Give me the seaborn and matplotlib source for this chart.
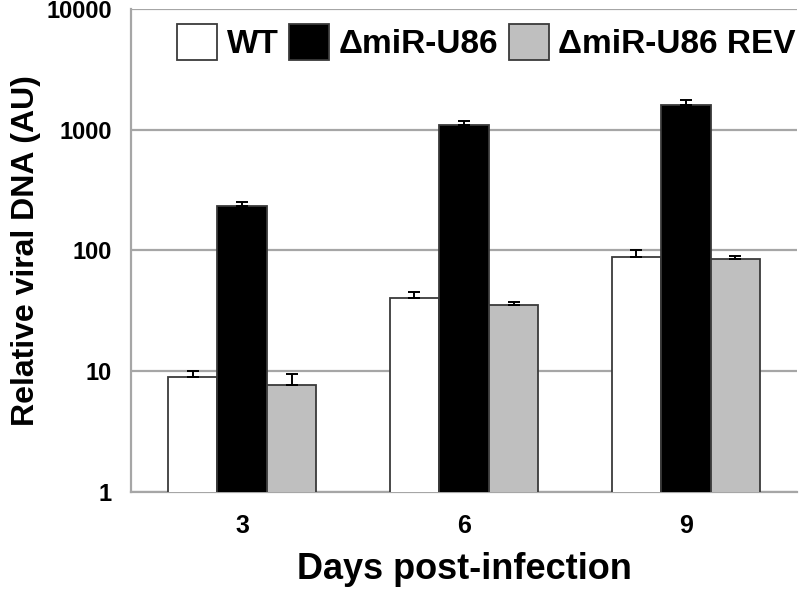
import matplotlib
matplotlib.use("Agg")
import matplotlib.pyplot as plt
import matplotlib.patches as mpatches
import pandas as pd
import seaborn as sns

sns.set_style("white")
plt.rcParams['font.family'] = ['Liberation Sans', 'DejaVu Sans']
plt.rcParams['text.color'] = 'black'
plt.rcParams['axes.labelcolor'] = 'black'
plt.rcParams['xtick.labelcolor'] = 'black'
plt.rcParams['ytick.labelcolor'] = 'black'

# values
days = ["3", "6", "9"]
strains = ["WT", "ΔmiR-U86", "ΔmiR-U86 REV"]
wt_mean = [9.0, 40.7, 89]
wt_top = [10.0, 45, 101]
del_mean = [235, 1083, 1608]
del_top = [254, 1185, 1745]
rev_mean = [7.7, 35.4, 85]
rev_top = [9.5, 37.3, 90.7]

colors = ["#ffffff", "#000000", "#bfbfbf"]

df = pd.DataFrame({
    "day": days * 3,
    "strain": [s for s in strains for _ in days],
    "value": wt_mean + del_mean + rev_mean,
})
tops = [wt_top, del_top, rev_top]
means = [wt_mean, del_mean, rev_mean]

fig, ax = plt.subplots(figsize=(8, 5.91), dpi=100)
fig.subplots_adjust(left=0.164, right=0.996, top=0.985, bottom=0.1675)

sns.barplot(data=df, x="day", y="value", hue="strain", hue_order=strains,
            palette=colors, width=0.67, saturation=1, errorbar=None,
            edgecolor="#3a3a3a", linewidth=1.3, ax=ax, zorder=3)
ax.set_yscale("log")
ax.set_ylim(1, 10000)
ax.set_xlim(-0.5, 2.5)

# upper error bars only
for cont, m, t in zip(ax.containers, means, tops):
    xs = [b.get_x() + b.get_width() / 2 for b in cont]
    up = [tt - mm for tt, mm in zip(t, m)]
    ax.errorbar(xs, m, yerr=[[0] * len(m), up], fmt="none", ecolor="black",
                elinewidth=1.4, capsize=4, capthick=1.4, zorder=4)

ax.yaxis.grid(True, color="#a6a6a6", linewidth=1.6, zorder=0)
ax.set_axisbelow(True)
ax.yaxis.set_major_formatter(matplotlib.ticker.FuncFormatter(lambda v, p: f"{v:g}"))
ax.yaxis.set_minor_locator(matplotlib.ticker.NullLocator())
ax.tick_params(axis="y", which="major", length=6, width=1.5, color="#a6a6a6",
               labelsize=17, pad=8)
ax.tick_params(axis="x", length=0, labelsize=18, pad=16)
for lab in ax.get_xticklabels() + ax.get_yticklabels():
    lab.set_fontweight("bold")

sns.despine(ax=ax, top=True, right=True)
for s in ["left", "bottom"]:
    ax.spines[s].set_color("#a6a6a6")
    ax.spines[s].set_linewidth(1.6)

ax.set_xlabel("Days post-infection", fontsize=26, fontweight="bold", labelpad=10)
ax.set_ylabel("Relative viral DNA (AU)", fontsize=23, fontweight="bold", labelpad=4)

ax.legend_.remove()
handles = [mpatches.Patch(facecolor=c, edgecolor="#3a3a3a", linewidth=1.3) for c in colors]
leg = fig.legend(handles, strains, ncol=3, frameon=False,
                 loc="center right", bbox_to_anchor=(0.995, 1 - 42 / 591),
                 prop={"weight": "bold", "size": 24},
                 handlelength=1.2, handleheight=1.3, handletextpad=0.3,
                 columnspacing=0.3, borderpad=0, borderaxespad=0)

fig.savefig("out.png", dpi=100)
